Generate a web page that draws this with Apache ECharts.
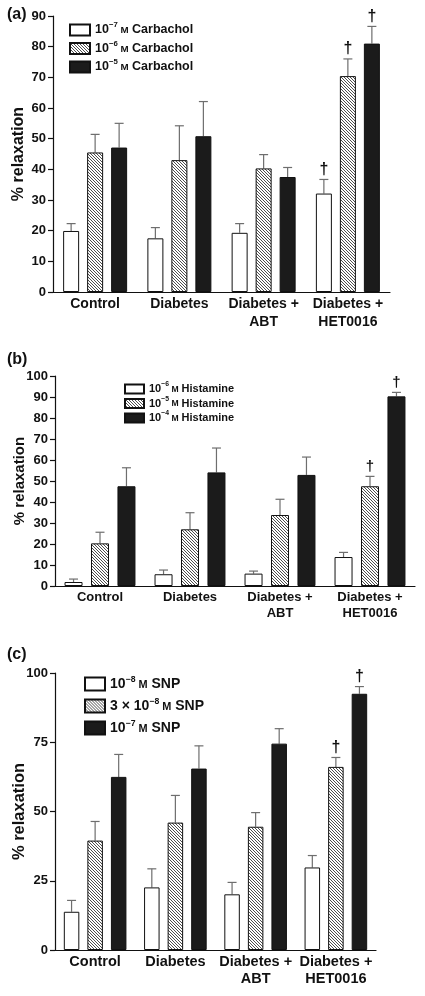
<!DOCTYPE html>
<html><head><meta charset="utf-8">
<script src="https://cdn.jsdelivr.net/npm/echarts@6/dist/echarts.min.js"></script>
<style>html,body{margin:0;padding:0;background:#fff}#c{width:425px;height:996px}</style>
</head><body><div id="c"></div>
<script>
// ---------- DATA ----------
const categories = ['Control', 'Diabetes', 'Diabetes +\nABT', 'Diabetes +\nHET0016'];

// Panel (a) Carbachol
const aNames = ['10^-7 M Carbachol', '10^-6 M Carbachol', '10^-5 M Carbachol'];
const aLow = [19.9, 17.5, 19.3, 32.1];
const aLowSem = [2.4, 3.5, 3.0, 4.6];
const aMid = [45.5, 43.0, 40.3, 70.4];
const aMidSem = [5.9, 11.2, 4.5, 5.6];
const aHigh = [47.1, 50.8, 37.5, 81.0];
const aHighSem = [7.9, 11.3, 3.1, 5.6];
const aLowSig = [0, 0, 0, 1];
const aMidSig = [0, 0, 0, 1];
const aHighSig = [0, 0, 0, 1];
const aTicks = [0, 10, 20, 30, 40, 50, 60, 70, 80, 90];

// Panel (b) Histamine
const bNames = ['10^-6 M Histamine', '10^-5 M Histamine', '10^-4 M Histamine'];
const bLow = [1.9, 5.6, 5.9, 13.8];
const bLowSem = [1.4, 2.0, 1.2, 2.2];
const bMid = [20.3, 27.0, 33.8, 47.5];
const bMidSem = [5.3, 7.9, 7.5, 4.7];
const bHigh = [47.5, 54.1, 52.9, 90.3];
const bHighSem = [8.8, 11.6, 8.5, 1.9];
const bLowSig = [0, 0, 0, 0];
const bMidSig = [0, 0, 0, 1];
const bHighSig = [0, 0, 0, 1];
const bTicks = [0, 10, 20, 30, 40, 50, 60, 70, 80, 90, 100];

// Panel (c) SNP
const cNames = ['10^-8 M SNP', '3 × 10^-8 M SNP', '10^-7 M SNP'];
const cLow = [13.8, 22.6, 20.1, 29.8];
const cLowSem = [4.1, 6.7, 4.3, 4.3];
const cMid = [39.5, 46.0, 44.5, 66.1];
const cMidSem = [6.9, 9.8, 5.1, 3.4];
const cHigh = [62.5, 65.5, 74.5, 92.5];
const cHighSem = [8.1, 8.2, 5.4, 2.6];
const cLowSig = [0, 0, 0, 0];
const cMidSig = [0, 0, 0, 1];
const cHighSig = [0, 0, 0, 1];
const cTicks = [0, 25, 50, 75, 100];

// ---------- STYLE ----------
const FONT = '"Liberation Sans", Arial, sans-serif';
function makeHatch() {
  const s = 3;
  const c = document.createElement('canvas');
  c.width = s; c.height = s;
  const ctx = c.getContext('2d');
  ctx.fillStyle = '#ffffff'; ctx.fillRect(0, 0, s, s);
  ctx.strokeStyle = '#3a3a3a'; ctx.lineWidth = 0.9;
  ctx.beginPath();
  ctx.moveTo(-1, -1); ctx.lineTo(s + 1, s + 1);
  ctx.moveTo(-1, s - 1); ctx.lineTo(1, s + 1);
  ctx.moveTo(s - 1, -1); ctx.lineTo(s + 1, 1);
  ctx.stroke();
  return c;
}
const hatch = { image: makeHatch(), repeat: 'repeat' };
const fills = ['#ffffff', hatch, '#1b1b1b'];

const panels = [
  { key: 'a', label: '(a)', labelTop: 7, names: aNames, vals: [aLow, aMid, aHigh], sems: [aLowSem, aMidSem, aHighSem], sigs: [aLowSig, aMidSig, aHighSig], ticks: aTicks,
    grid: { left: 53, right: 35, top: 16, height: 276 }, barW: 16, gapPct: 50, fs: 13, catFs: 14, catLh: 18, nameFs: 16, nameGap: 26,
    legend: { left: 69, top: 21, w: 20, h: 11, fs: 12.5, lh: 14, gap: 2.5 }, dagFs: 16 },
  { key: 'b', label: '(b)', labelTop: 352, names: bNames, vals: [bLow, bMid, bHigh], sems: [bLowSem, bMidSem, bHighSem], sigs: [bLowSig, bMidSig, bHighSig], ticks: bTicks,
    grid: { left: 55, right: 10, top: 376, height: 210 }, barW: 18, gapPct: 47, fs: 13, catFs: 13, catLh: 16, nameFs: 15, nameGap: 28,
    legend: { left: 124, top: 381, w: 19, h: 9, fs: 11, lh: 12, gap: 0.5 }, dagFs: 15 },
  { key: 'c', label: '(c)', labelTop: 647, names: cNames, vals: [cLow, cMid, cHigh], sems: [cLowSem, cMidSem, cHighSem], sigs: [cLowSig, cMidSig, cHighSig], ticks: cTicks,
    grid: { left: 55, right: 49, top: 673, height: 277 }, barW: 15.5, gapPct: 52, fs: 13, catFs: 14.5, catLh: 17, nameFs: 16.5, nameGap: 27,
    legend: { left: 84, top: 675, w: 20, h: 13, fs: 14, lh: 14, gap: 5.5 }, dagFs: 16 }
];

function legendFmt(name) {
  const m = name.match(/^(.*?)10\^(-\d) M (.*)$/);
  if (!m) return name;
  const pre = m[1] ? '{n|' + m[1] + '}' : '';
  return pre + '{n|10}{s|' + m[2].replace('-', '−') + '}{m| M} {n|' + m[3] + '}';
}

const option = { animation: false, title: [], grid: [], xAxis: [], yAxis: [], legend: [], series: [] };

panels.forEach((p, pi) => {
  option.title.push({ text: p.label, left: 7, top: p.labelTop, padding: 0,
    textStyle: { fontFamily: FONT, fontWeight: 'bold', fontSize: 16, color: '#111' } });
  option.grid.push({ left: p.grid.left, right: p.grid.right, top: p.grid.top, height: p.grid.height, containLabel: false });
  const tks = p.ticks;
  option.xAxis.push({ type: 'category', gridIndex: pi, data: categories,
    axisLine: { lineStyle: { color: '#111', width: 1.2 } }, axisTick: { show: false },
    axisLabel: { interval: 0, margin: 3, color: '#111', fontFamily: FONT, fontWeight: 'bold', fontSize: p.catFs, lineHeight: p.catLh } });
  option.yAxis.push({ type: 'value', gridIndex: pi, min: tks[0], max: tks[tks.length - 1], interval: tks[1] - tks[0],
    name: '% relaxation', nameLocation: 'middle', nameGap: p.nameGap, nameMoveOverlap: false,
    nameTextStyle: { fontFamily: FONT, fontWeight: 'bold', fontSize: p.nameFs, color: '#111' },
    axisLine: { show: true, lineStyle: { color: '#111', width: 1.2 } },
    axisTick: { show: true, length: 5, lineStyle: { color: '#111', width: 1.2 } },
    splitLine: { show: false },
    axisLabel: { margin: 7, color: '#111', fontFamily: FONT, fontWeight: 'bold', fontSize: p.fs } });
  const L = p.legend;
  option.legend.push({ orient: 'vertical', left: L.left, top: L.top, padding: 0, itemGap: L.gap,
    itemWidth: L.w, itemHeight: L.h, icon: 'rect', selectedMode: false,
    data: p.names, formatter: legendFmt,
    textStyle: { color: '#111', fontFamily: FONT, fontWeight: 'bold', fontSize: L.fs, lineHeight: L.lh,
      rich: {
        n: { fontFamily: FONT, fontWeight: 'bold', fontSize: L.fs, lineHeight: L.lh, verticalAlign: 'middle', color: '#111' },
        s: { fontFamily: FONT, fontWeight: 'bold', fontSize: L.fs * 0.62, lineHeight: L.fs * 0.62, verticalAlign: 'top', color: '#111', padding: [-2, 0, 0, 0] },
        m: { fontFamily: FONT, fontWeight: 'bold', fontSize: L.fs * 0.78, lineHeight: L.lh, verticalAlign: 'middle', color: '#111', padding: [1, 0, 0, 0] }
      } } });
  p.names.forEach((nm, si) => {
    option.series.push({ type: 'bar', name: nm, xAxisIndex: pi, yAxisIndex: pi, data: p.vals[si],
      barWidth: p.barW, barGap: p.gapPct + '%',
      itemStyle: { color: fills[si], borderColor: '#111', borderWidth: 1 }, z: 3 });
  });
  // error bars + significance daggers
  p.names.forEach((nm, si) => {
    const data = p.vals[si].map((v, i) => [i, v, v + p.sems[si][i], p.sigs[si][i]]);
    const step = p.barW * (1 + p.gapPct / 100);
    option.series.push({ type: 'custom', xAxisIndex: pi, yAxisIndex: pi, data: data, z: 2, silent: true,
      renderItem: function (params, api) {
        const base = api.coord([api.value(0), api.value(1)]);
        const top = api.coord([api.value(0), api.value(2)]);
        const x = base[0] + (si - 1) * step;
        const cap = 4.5;
        const children = [
          { type: 'line', shape: { x1: x, y1: base[1], x2: x, y2: top[1] }, style: { stroke: '#6e6e6e', lineWidth: 1.2 } },
          { type: 'line', shape: { x1: x - cap, y1: top[1], x2: x + cap, y2: top[1] }, style: { stroke: '#6e6e6e', lineWidth: 1.2 } }
        ];
        if (api.value(3)) {
          children.push({ type: 'text', style: { text: '†', x: x, y: top[1] - 2, align: 'center', verticalAlign: 'bottom',
            font: 'bold ' + p.dagFs + 'px ' + FONT, fill: '#111' } });
        }
        return { type: 'group', children: children };
      } });
  });
});

const chart = echarts.init(document.getElementById('c'), null, { renderer: 'canvas' });
chart.setOption(option);
</script>
</body></html>
